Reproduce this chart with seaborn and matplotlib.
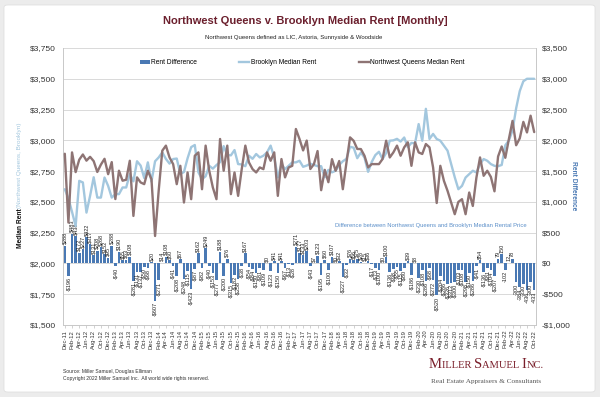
import numpy as np
import pandas as pd
import matplotlib
matplotlib.use("Agg")
import matplotlib.pyplot as plt
import seaborn as sns
from matplotlib.patches import FancyBboxPatch, Patch
from matplotlib.lines import Line2D
from matplotlib.offsetbox import TextArea, HPacker, AnnotationBbox

plt.rcParams['font.family'] = ['Liberation Sans', 'DejaVu Sans']

# ---------------- data ----------------
months = pd.date_range("2011-12-01", "2022-10-01", freq="MS").strftime("%b-%y").tolist()

brooklyn = [
    2603, 2528, 2419, 2304, 2671, 2658, 2413, 2549, 2700, 2535,
    2535, 2698, 2630, 2535, 2563, 2563, 2617, 2617, 2726, 2667,
    2830, 2795, 2694, 2821, 2665, 2830, 2861, 2902, 2849, 2811,
    2848, 2852, 2726, 2743, 2854, 2945, 2962, 2740, 2685, 2708,
    2793, 2770, 2799, 2823, 2953, 2881, 2878, 2921, 2807, 2804,
    2790, 2875, 2850, 2889, 2861, 2875, 2902, 2957, 2861, 2699,
    2807, 2766, 2793, 2821, 2821, 2834, 2785, 2795, 2810, 2800,
    2790, 2790, 2700, 2760, 2740, 2753, 2800, 2830, 2850, 2948,
    2940, 2855, 2901, 2860, 2744, 2824, 2880, 2907, 2848, 2897,
    2997, 3000, 3012, 2990, 3023, 2945, 2979, 2976, 3132, 2997,
    3256, 3011, 3052, 3011, 2997, 2957, 2916, 2807, 2700, 2603,
    2630, 2698, 2726, 2753, 2739, 2807, 2848, 2834, 2807, 2793,
    2790, 2800, 2960, 3000, 3080, 3260, 3400, 3480, 3500, 3500,
    3500]

nw_queens = [
    2891, 2332, 2902, 2742, 2843, 2885, 2835, 2866, 2831, 2743,
    2803, 2850, 2725, 2823, 2523, 2753, 2672, 2680, 2834, 2386,
    2699, 2658, 2644, 2753, 2685, 2223, 2590, 2916, 2957, 2861,
    2807, 2644, 2793, 2495, 2739, 2522, 2875, 2902, 2603, 2957,
    2753, 2617, 2522, 3011, 2753, 2957, 2563, 2739, 2549, 2766,
    2957, 2821, 2766, 2739, 2780, 2766, 2902, 2834, 2902, 2549,
    2848, 2699, 2780, 2793, 3092, 3011, 2918, 2998, 2767, 2807,
    2913, 2595, 2760, 2660, 2847, 2753, 2832, 2603, 2818, 3024,
    2996, 2930, 2929, 2875, 2780, 2807, 2807, 2807, 2848, 2997,
    2861, 2902, 2957, 2875, 2943, 2984, 2793, 2984, 2902, 2889,
    2970, 2943, 2780, 2491, 2793, 2671, 2590, 2495, 2400, 2500,
    2522, 2400, 2576, 2467, 2698, 2861, 2712, 2753, 2703, 2586,
    2869, 2950, 2858, 3012, 3158, 2960, 3016, 3150, 3064, 3200,
    3067]

rent_diff = [
    288, -196, 483, 438, 172, 227, 422, 317, 131, 208,
    268, 152, 95, 288, -40, 190, 55, 63, 108, -281,
    -131, -137, -50, -68, 20, -607, -271, 14, 108, 50,
    -41, -208, 67, -248, -115, -423, -87, 162, -82, 249,
    -40, -153, -277, 188, -200, 76, -315, -182, -258, -38,
    167, -54, -84, -150, -81, -109, 0, -123, 41, -150,
    41, -67, -13, -28, 271, 177, 133, 203, -43, 7,
    123, -195, 60, -100, 107, 0, 32, -227, -32, 76,
    56, 75, 28, 15, 36, -17, -73, -100, 0, 100,
    -136, -98, -55, -115, -80, 39, -186, 8, -230, -108,
    -286, -68, -272, -520, -204, -286, -326, -312, -300, -103,
    -108, -298, -150, -286, -41, 54, -136, -81, -104, -207,
    79, 150, -102, 12, 78, -300, -384, -330, -436, -300,
    -433]

n = len(months)
assert len(brooklyn) == n and len(nw_queens) == n and len(rent_diff) == n

# bar labels: dollar sign on older months, plain numbers on the latest ones
bar_labels = [(f"-${abs(v)}" if v < 0 else f"${v}") if i < 120 else f"{v}"
              for i, v in enumerate(rent_diff)]

left_ticks = list(range(1500, 3751, 250))
right_ticks = list(range(-1000, 3501, 500))

def money(v):
    return f"-${abs(v):,}" if v < 0 else f"${v:,}"

# ---------------- style ----------------
BAR = "#4a79b4"
BK_C = "#a3c7de"
NWQ_C = "#8e7474"
TITLE_C = "#6b1f2d"
GRID_C = "#d9d9d9"

W, H = 600, 397
fig = plt.figure(figsize=(W / 100, H / 100), dpi=100, facecolor="#ececec")
card = FancyBboxPatch((4 / W, 5 / H), 591 / W, 387 / H,
                      boxstyle="round,pad=0,rounding_size=0.006",
                      transform=fig.transFigure, facecolor="white",
                      edgecolor="#e0e0e0", lw=0.6, zorder=-10)
fig.patches.append(card)

df = pd.DataFrame({"idx": np.arange(n), "diff": rent_diff,
                   "bk": brooklyn, "nwq": nw_queens})

ax = fig.add_axes([63 / W, 1 - 325 / H, 473 / W, 277 / H])
ax.set_facecolor("none")
sns.barplot(data=df, x="idx", y="diff", native_scale=True, color=BAR,
            saturation=1, width=0.72, errorbar=None, ax=ax, zorder=2)
ax.bar_label(ax.containers[0], labels=bar_labels, rotation=90, fontsize=4.0,
             padding=1, color="#222222")

ax2 = ax.twinx()
sns.lineplot(data=df, x="idx", y="bk", color=BK_C, lw=1.7, ax=ax2,
             legend=False, solid_joinstyle="round", solid_capstyle="round")
sns.lineplot(data=df, x="idx", y="nwq", color=NWQ_C, lw=1.7, ax=ax2,
             legend=False, solid_joinstyle="round", solid_capstyle="round")

ax.set_xlim(-0.5, n - 0.5)
ax.set_ylim(-1000, 3500)
ax2.set_ylim(1500, 3750)

ax.yaxis.tick_right()
ax.set_yticks(right_ticks)
ax.set_yticklabels([money(v) for v in right_ticks], fontsize=6, color="#333333")
ax2.yaxis.tick_left()
ax2.set_yticks(left_ticks)
ax2.set_yticklabels([money(v) for v in left_ticks], fontsize=6, color="#333333")
ax.tick_params(axis="y", length=0, pad=4)
ax2.tick_params(axis="y", length=0, pad=5)

ax.set_xticks(range(0, n, 2))
ax.set_xticklabels(months[::2], rotation=90, fontsize=4.2, color="#333333")
ax.tick_params(axis="x", length=2, width=0.5, color="#bfbfbf", pad=1.5)

ax.grid(axis="y", color=GRID_C, lw=0.7)
ax.set_axisbelow(True)
ax.spines["top"].set_visible(False)
for s in ["left", "right", "bottom"]:
    ax.spines[s].set_color("#c8c8c8")
    ax.spines[s].set_linewidth(0.7)
for s in ax2.spines.values():
    s.set_visible(False)
ax.set_xlabel("")
ax.set_ylabel("")
ax2.set_xlabel("")
ax2.set_ylabel("")

# legend
handles = [Patch(facecolor=BAR, edgecolor="none"),
           Line2D([], [], color=BK_C, lw=1.7),
           Line2D([], [], color=NWQ_C, lw=1.7)]
labels = ["Rent Difference", "Brooklyn Median Rent", "Northwest Queens Median Rent"]
fig.legend(handles, labels, loc="center", bbox_to_anchor=(302 / W, 1 - 63 / H),
           ncol=3, frameon=False, fontsize=4.8, handlelength=1.5, handleheight=0.5,
           handletextpad=0.2, columnspacing=6.4)

# titles
fig.text(305 / W, 1 - 21 / H, "Northwest Queens v. Brooklyn Median Rent [Monthly]",
         ha="center", va="center", fontsize=8, fontweight="bold", color=TITLE_C)
fig.text(294 / W, 1 - 38 / H, "Northwest Queens defined as LIC, Astoria, Sunnyside & Woodside",
         ha="center", va="center", fontsize=4.3, color="#222222")

# axis titles
fig.text(20 / W, 1 - 228 / H, "Median Rent", rotation=90, ha="center", va="center",
         fontsize=4.8, fontweight="bold", color="#111111")
fig.text(20 / W, 1 - 165 / H, "(Northwest Queens, Brooklyn)", rotation=90, ha="center",
         va="center", fontsize=4.6, color=BK_C)
fig.text(574 / W, 1 - 186 / H, "Rent Difference", rotation=270, ha="center", va="center",
         fontsize=4.8, fontweight="bold", color=BAR)

fig.text(527 / W, 1 - 225 / H,
         "Difference between Northwest Queens and Brooklyn Median Rental Price",
         ha="right", va="center", fontsize=4.2, color="#5b8fc9")

# footer
fig.text(63 / W, 1 - 371 / H, "Source: Miller Samuel, Douglas Elliman",
         ha="left", va="center", fontsize=3.6, color="#333333")
fig.text(63 / W, 1 - 378.5 / H,
         "Copyright 2022 Miller Samuel Inc.  All world wide rights reserved.",
         ha="left", va="center", fontsize=3.6, color="#333333")

LOGO_C = "#7a1f2b"
big, small = 10.5, 7.6
parts = [("M", big), ("ILLER ", small), ("S", big), ("AMUEL ", small),
         ("I", big), ("NC.", small)]
areas = [TextArea(t, textprops=dict(fontsize=s, color=LOGO_C,
                                     family=["Liberation Serif", "DejaVu Serif"]))
         for t, s in parts]
box = HPacker(children=areas, align="baseline", pad=0, sep=0)
ab = AnnotationBbox(box, (486 / W, 1 - 365 / H), xycoords="figure fraction",
                    frameon=False, box_alignment=(0.5, 0.5), annotation_clip=False)
fig.add_artist(ab)
fig.text(486 / W, 1 - 381 / H, "Real Estate Appraisers & Consultants",
         ha="center", va="center", fontsize=5.2, color="#555555",
         family=["Liberation Serif", "DejaVu Serif"])

fig.savefig("out.png", dpi=100, facecolor=fig.get_facecolor())
